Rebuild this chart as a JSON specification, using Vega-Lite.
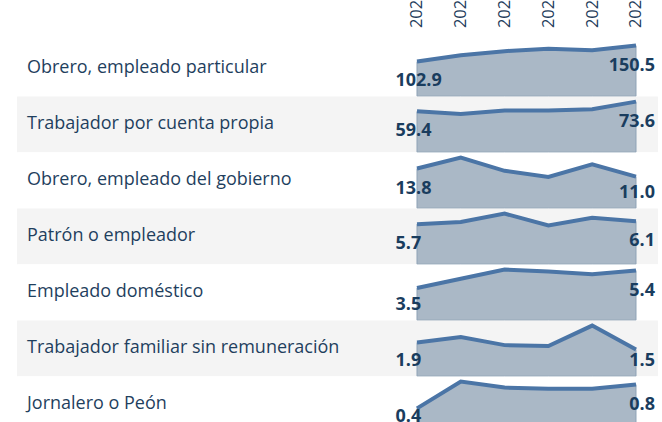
{
  "$schema": "https://vega.github.io/schema/vega-lite/v6.json",
  "autosize": {"type": "pad"},
  "padding": {"left": 17, "top": -10.4, "right": 0, "bottom": 0},
  "background": "#ffffff",
  "bounds": "flush",
  "config": {"view": {"stroke": null}, "font": "Open Sans"},
  "data": {"values": [
    {"cat": "Obrero, empleado particular", "year": 2020, "value": 102.9},
    {"cat": "Obrero, empleado particular", "year": 2021, "value": 122},
    {"cat": "Obrero, empleado particular", "year": 2022, "value": 134},
    {"cat": "Obrero, empleado particular", "year": 2023, "value": 141},
    {"cat": "Obrero, empleado particular", "year": 2024, "value": 137},
    {"cat": "Obrero, empleado particular", "year": 2025, "value": 150.5},
    {"cat": "Trabajador por cuenta propia", "year": 2020, "value": 59.4},
    {"cat": "Trabajador por cuenta propia", "year": 2021, "value": 55.6},
    {"cat": "Trabajador por cuenta propia", "year": 2022, "value": 60.5},
    {"cat": "Trabajador por cuenta propia", "year": 2023, "value": 60.5},
    {"cat": "Trabajador por cuenta propia", "year": 2024, "value": 62.6},
    {"cat": "Trabajador por cuenta propia", "year": 2025, "value": 73.6},
    {"cat": "Obrero, empleado del gobierno", "year": 2020, "value": 13.8},
    {"cat": "Obrero, empleado del gobierno", "year": 2021, "value": 17.6},
    {"cat": "Obrero, empleado del gobierno", "year": 2022, "value": 13.0},
    {"cat": "Obrero, empleado del gobierno", "year": 2023, "value": 10.9},
    {"cat": "Obrero, empleado del gobierno", "year": 2024, "value": 15.3},
    {"cat": "Obrero, empleado del gobierno", "year": 2025, "value": 11.0},
    {"cat": "Patrón o empleador", "year": 2020, "value": 5.7},
    {"cat": "Patrón o empleador", "year": 2021, "value": 6.0},
    {"cat": "Patrón o empleador", "year": 2022, "value": 7.2},
    {"cat": "Patrón o empleador", "year": 2023, "value": 5.5},
    {"cat": "Patrón o empleador", "year": 2024, "value": 6.6},
    {"cat": "Patrón o empleador", "year": 2025, "value": 6.1},
    {"cat": "Empleado doméstico", "year": 2020, "value": 3.5},
    {"cat": "Empleado doméstico", "year": 2021, "value": 4.5},
    {"cat": "Empleado doméstico", "year": 2022, "value": 5.5},
    {"cat": "Empleado doméstico", "year": 2023, "value": 5.3},
    {"cat": "Empleado doméstico", "year": 2024, "value": 5.0},
    {"cat": "Empleado doméstico", "year": 2025, "value": 5.4},
    {"cat": "Trabajador familiar sin remuneración", "year": 2020, "value": 1.9},
    {"cat": "Trabajador familiar sin remuneración", "year": 2021, "value": 2.2},
    {"cat": "Trabajador familiar sin remuneración", "year": 2022, "value": 1.75},
    {"cat": "Trabajador familiar sin remuneración", "year": 2023, "value": 1.7},
    {"cat": "Trabajador familiar sin remuneración", "year": 2024, "value": 2.85},
    {"cat": "Trabajador familiar sin remuneración", "year": 2025, "value": 1.5},
    {"cat": "Jornalero o Peón", "year": 2020, "value": 0.4},
    {"cat": "Jornalero o Peón", "year": 2021, "value": 0.85},
    {"cat": "Jornalero o Peón", "year": 2022, "value": 0.75},
    {"cat": "Jornalero o Peón", "year": 2023, "value": 0.73},
    {"cat": "Jornalero o Peón", "year": 2024, "value": 0.73},
    {"cat": "Jornalero o Peón", "year": 2025, "value": 0.8}
  ]},
  "facet": {
    "row": {
      "field": "cat", "type": "nominal",
      "sort": ["Obrero, empleado particular", "Trabajador por cuenta propia", "Obrero, empleado del gobierno", "Patrón o empleador", "Empleado doméstico", "Trabajador familiar sin remuneración", "Jornalero o Peón"],
      "header": {"labels": false, "title": null}
    }
  },
  "spacing": 0,
  "resolve": {"scale": {"y": "independent"}},
  "spec": {
    "width": 641,
    "height": 55.6,
    "encoding": {
      "x": {
        "field": "year", "type": "ordinal",
        "scale": {"type": "point", "range": [400, 619], "padding": 0},
        "axis": {
          "orient": "top", "labelAngle": -90, "labelAlign": "left", "labelBaseline": "middle",
          "labelFont": "Open Sans", "labelFontSize": 16.5, "labelColor": "#1f3d5c",
          "ticks": false, "domain": false, "grid": false, "title": null, "labelPadding": 13
        }
      }
    },
    "layer": [
      {
        "transform": [{"filter": "datum.year == 2020"}],
        "mark": {"type": "rect"},
        "encoding": {
          "x": {"value": 0}, "x2": {"value": "width"},
          "y": {"value": 0}, "y2": {"value": "height"},
          "fill": {
            "condition": {"test": "indexof(['Trabajador por cuenta propia','Patrón o empleador','Trabajador familiar sin remuneración'], datum.cat) >= 0", "value": "#f4f4f4"},
            "value": "#ffffff"
          }
        }
      },
      {
        "transform": [{"filter": "datum.year == 2020"}],
        "mark": {"type": "text", "align": "left", "baseline": "middle", "font": "Open Sans", "fontSize": 18, "color": "#1f3f5e"},
        "encoding": {
          "x": {"value": 10},
          "y": {"value": 27.8},
          "text": {"field": "cat"}
        }
      },
      {
        "mark": {"type": "area", "fill": "#aab8c6", "stroke": "#8fa3b7", "strokeWidth": 1},
        "encoding": {
          "y": {"field": "value", "type": "quantitative", "scale": {"zero": true, "nice": false, "range": [55.6, 5]}, "axis": null}
        }
      },
      {
        "mark": {"type": "line", "color": "#4b75a6", "strokeWidth": 4},
        "encoding": {
          "y": {"field": "value", "type": "quantitative", "axis": null}
        }
      },
      {
        "transform": [{"filter": "datum.year == 2020"}],
        "mark": {"type": "text", "align": "left", "baseline": "alphabetic", "dx": -21.5, "dy": {"expr": "min(25, 45.6 - scale('child_y', datum.value))"}, "font": "Open Sans", "fontWeight": "bold", "fontSize": 18, "color": "#1a3d5e"},
        "encoding": {
          "y": {"field": "value", "type": "quantitative", "axis": null},
          "text": {"field": "value", "type": "quantitative", "format": ".1f"}
        }
      },
      {
        "transform": [{"filter": "datum.year == 2025"}],
        "mark": {"type": "text", "align": "right", "baseline": "alphabetic", "dx": 19, "dy": {"expr": "min(25, 45.6 - scale('child_y', datum.value))"}, "font": "Open Sans", "fontWeight": "bold", "fontSize": 18, "color": "#1a3d5e"},
        "encoding": {
          "y": {"field": "value", "type": "quantitative", "axis": null},
          "text": {"field": "value", "type": "quantitative", "format": ".1f"}
        }
      }
    ]
  }
}
